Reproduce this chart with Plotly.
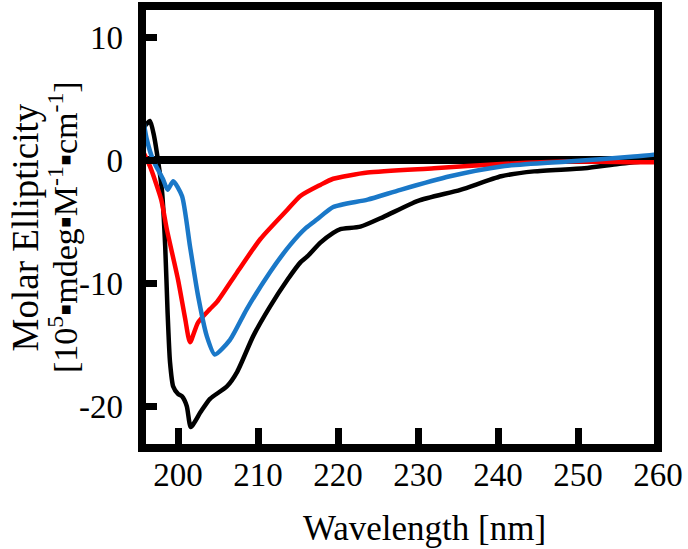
import plotly.graph_objects as go

# Black spectrum
black_nm = [195.5, 196.0, 196.5, 197.0, 197.5, 198.0, 198.4, 198.7, 199.0, 199.4, 200.0, 200.5,
            201.1, 201.6, 202.8, 204.0, 206.1, 207.4, 209.4, 211.5, 213.7, 215.3, 216.2, 217.8,
            219.4, 220.3, 222.8, 225.7, 230.0, 235.3, 240.4, 244.5, 250.8, 255.0, 258.0, 260.0]
black_val = [2.4, 2.9, 3.2, 2.0, 0.0, -2.5, -7.0, -12.4, -16.4, -18.4, -19.0, -19.2,
             -20.0, -21.7, -20.5, -19.4, -18.4, -17.2, -14.3, -11.9, -9.7, -8.3, -7.8, -6.7,
             -5.9, -5.6, -5.4, -4.6, -3.3, -2.4, -1.3, -0.9, -0.65, -0.3, -0.1, 0.1]

# Red spectrum
red_nm = [195.5, 196.5, 197.9, 198.6, 200.0, 200.9, 201.5, 202.5, 204.0, 204.9, 207.4, 210.3,
          213.7, 215.3, 217.8, 219.4, 223.7, 232.0, 240.4, 248.7, 257.0, 260.0]
red_val = [0.9, -0.5, -3.2, -5.6, -9.7, -12.9, -14.8, -13.2, -12.1, -11.5, -9.1, -6.4,
           -4.0, -2.9, -2.0, -1.5, -1.0, -0.65, -0.3, -0.1, -0.15, -0.15]

# Blue spectrum
blue_nm = [195.5, 196.1, 196.9, 198.1, 198.7, 199.4, 200.5, 201.5, 202.5, 203.6, 204.6, 206.5,
           208.6, 211.5, 214.0, 216.0, 217.4, 219.4, 223.7, 227.8, 234.0, 240.4, 248.7, 257.0, 260.0]
blue_val = [3.9, 1.7, 0.0, -1.5, -2.4, -1.7, -2.9, -7.0, -11.0, -14.3, -15.8, -14.6,
            -12.1, -9.1, -6.9, -5.5, -4.8, -3.8, -3.2, -2.4, -1.3, -0.5, -0.1, 0.3, 0.5]

x_ticks = [200, 210, 220, 230, 240, 250, 260]
y_ticks = [10, 0, -10, -20]
y_tick_text = ["10", "0", "-10", "-20"]

FONT = "Liberation Serif"

fig = go.Figure()
for xs, ys, col in [(black_nm, black_val, "#000000"),
                    (red_nm, red_val, "#ff0000"),
                    (blue_nm, blue_val, "#1a78c8")]:
    fig.add_trace(go.Scatter(x=xs, y=ys, mode="lines",
                             line=dict(color=col, width=4.5, shape="spline", smoothing=0.6),
                             showlegend=False, hoverinfo="skip"))

fig.update_layout(
    width=688, height=549,
    margin=dict(l=142, r=30, t=6, b=101),
    paper_bgcolor="white", plot_bgcolor="white",
    font=dict(family=FONT, color="black", size=33),
    xaxis=dict(range=[195.5, 260], tickvals=x_ticks, ticks="inside", ticklen=20,
               tickwidth=7, tickcolor="black", showgrid=False, zeroline=False,
               showline=False, ticklabelstandoff=4,
               tickfont=dict(family=FONT, size=33, color="black")),
    yaxis=dict(range=[-23.4, 12.55], tickvals=y_ticks, ticktext=y_tick_text,
               ticks="inside", ticklen=15, tickwidth=7, tickcolor="black",
               showgrid=False, zeroline=True, zerolinewidth=8, zerolinecolor="black",
               showline=False, ticklabelstandoff=18,
               tickfont=dict(family=FONT, size=33, color="black")),
    shapes=[dict(type="rect", xref="paper", yref="paper", x0=0, x1=1, y0=0, y1=1,
                 line=dict(color="black", width=8), layer="above")],
    annotations=[
        dict(text="Wavelength [nm]", xref="paper", yref="paper", x=0.548, y=-0.183,
             xanchor="center", yanchor="middle", showarrow=False,
             font=dict(family=FONT, size=35, color="black")),
        dict(text="Molar Ellipticity", xref="paper", yref="paper", x=-0.226, y=0.5,
             xanchor="center", yanchor="middle", textangle=-90, showarrow=False,
             font=dict(family=FONT, size=37, color="black")),
        dict(text="[10<sup>5</sup>\u25aamdeg\u25aaM<sup>-1</sup>\u25aacm<sup>-1</sup>]",
             xref="paper", yref="paper", x=-0.153, y=0.5,
             xanchor="center", yanchor="middle", textangle=-90, showarrow=False,
             font=dict(family=FONT, size=34, color="black")),
    ],
)

fig.write_html("out.html", config={"displayModeBar": False},
               post_script="document.body.style.margin='0px';")
